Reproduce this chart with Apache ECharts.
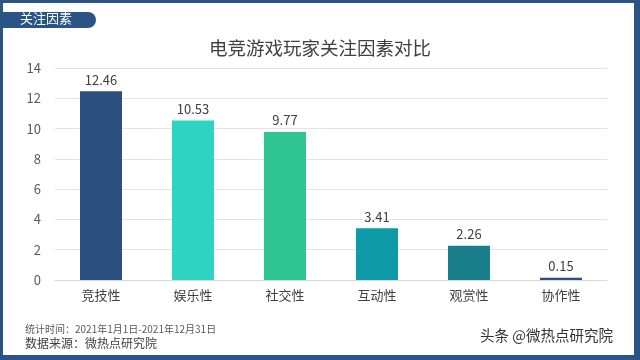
<!DOCTYPE html>
<html><head><meta charset="utf-8">
<script src="https://cdn.jsdelivr.net/npm/echarts@6/dist/echarts.min.js"></script>
<style>html,body{margin:0;padding:0;background:#fff}#c{width:640px;height:360px}</style>
</head><body><div id="c"></div>
<script>
var categories = ['竞技性','娱乐性','社交性','互动性','观赏性','协作性'];
var values = [12.46, 10.53, 9.77, 3.41, 2.26, 0.15];
var barColors = ['#2b4f7f','#2fd3c1','#2fc592','#0e9aa6','#187e89','#2b4f7f'];
var yTicks = [0,2,4,6,8,10,12,14];

var chart = echarts.init(document.getElementById('c'));
var font = '"Noto Sans CJK SC","Noto Sans",sans-serif';
chart.setOption({
  backgroundColor:'#fff',
  animation:false,
  title:{text:'电竞游戏玩家关注因素对比',left:'center',top:34,
    textStyle:{fontFamily:font,fontSize:18.5,fontWeight:'normal',color:'#404040'}},
  grid:{left:55,right:33,top:68,bottom:80},
  xAxis:{type:'category',data:categories,
    axisLine:{lineStyle:{color:'#d9d9d9'}},axisTick:{show:false},
    axisLabel:{fontFamily:font,fontSize:13,color:'#404040',margin:9}},
  yAxis:{type:'value',min:yTicks[0],max:yTicks[yTicks.length-1],interval:2,
    axisLine:{show:false},axisTick:{show:false},
    splitLine:{lineStyle:{color:'#e3e3e3'}},
    axisLabel:{fontFamily:font,fontSize:13,color:'#595959',margin:14}},
  series:[{type:'bar',barWidth:42,
    data:values.map(function(v,i){return {value:v,itemStyle:{color:barColors[i]}};}),
    label:{show:true,position:'top',fontFamily:font,fontSize:13,color:'#404040',
      formatter:function(p){return p.value.toFixed(2);}}
  }],
  graphic:[
    {type:'rect',left:0,top:0,shape:{width:640,height:3},style:{fill:'#2b5486'}},
    {type:'rect',left:0,top:355,shape:{width:640,height:5},style:{fill:'#2b5486'}},
    {type:'rect',left:0,top:0,shape:{width:3,height:360},style:{fill:'#2b5486'}},
    {type:'rect',left:634,top:0,shape:{width:6,height:360},style:{fill:'#2b5486'}},
    {type:'rect',left:0,top:12,shape:{width:96,height:16,r:[0,8,8,0]},style:{fill:'#2b5486'}},
    {type:'text',left:20,top:12,style:{text:'关注因素',fill:'#fff',font:'13px '+font}},
    {type:'text',left:25,top:324,style:{text:'统计时间：2021年1月1日-2021年12月31日',fill:'#595959',font:'10px '+font}},
    {type:'text',left:25,top:337,style:{text:'数据来源：微热点研究院',fill:'#404040',font:'12px '+font}},
    {type:'text',left:480,top:328,style:{text:'头条 @微热点研究院',fill:'#333',font:'14.5px '+font}}
  ]
});
</script></body></html>
